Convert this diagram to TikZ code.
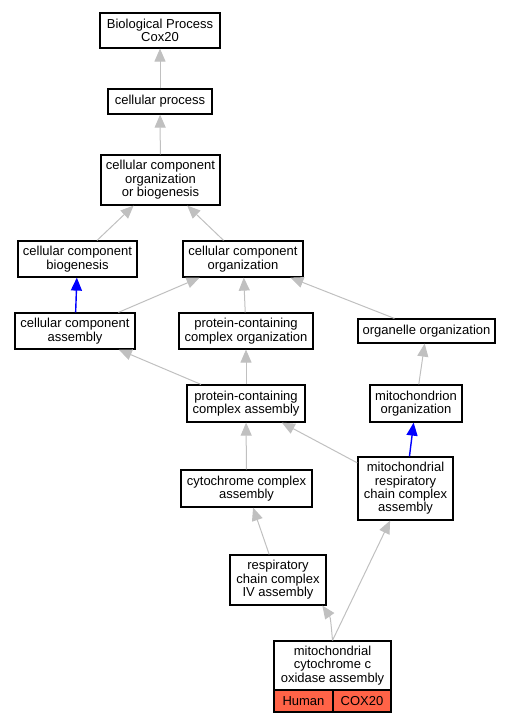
\documentclass[tikz,border=0pt]{standalone}
\usepackage{fontspec}
\setmainfont{Liberation Sans}
\usepackage{tikz}
\usetikzlibrary{arrows.meta}

\definecolor{edgegray}{HTML}{C0C0C0}
\definecolor{tomato}{HTML}{FF6347}

\begin{document}
\begin{tikzpicture}[x=1pt,y=-1pt,
  go node/.style={rectangle,draw,line width=1.2pt,fill=white,align=center,inner sep=0pt,
    font=\fontsize{13}{13.4}\selectfont},
  gene node/.style={rectangle,draw,line width=1.2pt,fill=tomato,inner sep=0pt,
    minimum height=22pt,font=\fontsize{13}{13.4}\selectfont},
  isa/.style={draw=edgegray,line width=1pt,-{Triangle[length=13pt,width=11pt]}},
  partof/.style={draw=blue,line width=1.4pt,-{Triangle[length=13pt,width=11pt]}}]
  \useasboundingbox (0,0) rectangle (511,723);

  \node[go node,minimum width=120pt,minimum height=35pt] (bp) at (160,30.5) {Biological Process\\Cox20};
  \node[go node,minimum width=104pt,minimum height=25pt] (cp) at (160,101.5) {cellular process};
  \node[go node,minimum width=119pt,minimum height=50pt] (ccob) at (160.5,180) {cellular component\\organization\\or biogenesis};
  \node[go node,minimum width=119pt,minimum height=36pt] (ccb) at (77.5,259) {cellular component\\biogenesis};
  \node[go node,minimum width=120pt,minimum height=36pt] (cco) at (243,259) {cellular component\\organization};
  \node[go node,minimum width=120pt,minimum height=36pt] (cca) at (75,331) {cellular component\\assembly};
  \node[go node,minimum width=134pt,minimum height=36pt] (pcco) at (246,331) {protein-containing\\complex organization};
  \node[go node,minimum width=137pt,minimum height=24pt] (oo) at (426.5,331) {organelle organization};
  \node[go node,minimum width=118pt,minimum height=37pt] (pcca) at (246,403.5) {protein-containing\\complex assembly};
  \node[go node,minimum width=92pt,minimum height=37pt] (mo) at (416,403.5) {mitochondrion\\organization};
  \node[go node,minimum width=131pt,minimum height=37pt] (cyca) at (246.5,488.5) {cytochrome complex\\assembly};
  \node[go node,minimum width=95pt,minimum height=63pt] (mrcca) at (405.5,488.5) {mitochondrial\\respiratory\\chain complex\\assembly};
  \node[go node,minimum width=96pt,minimum height=50pt] (rcc4) at (278,580) {respiratory\\chain complex\\IV assembly};
  \node[go node,minimum width=117pt,minimum height=49pt] (mcoa) at (332.5,665.5) {mitochondrial\\cytochrome c\\oxidase assembly};
  \node[gene node,minimum width=59pt] (human) at (303.5,701) {Human};
  \node[gene node,minimum width=58pt] (cox20) at (362,701) {COX20};

  \path
    (cp) edge [isa] (bp)
    (ccob) edge [isa] (cp)
    (ccb) edge [isa] (ccob)
    (cco) edge [isa] (ccob)
    (cca) edge [partof] (ccb)
    (cca) edge [isa] (cco)
    (pcco) edge [isa] (cco)
    (oo) edge [isa] (cco)
    (pcca) edge [isa] (cca)
    (pcca) edge [isa] (pcco)
    (mo) edge [isa] (oo)
    (mrcca) edge [isa] (pcca)
    (mrcca) edge [partof] (mo)
    (cyca) edge [isa] (pcca)
    (rcc4) edge [isa] (cyca)
    (mcoa.north) edge [isa] (mrcca)
    (mcoa.north) edge [isa,out=95,in=-55] (rcc4.-30);
\end{tikzpicture}
\end{document}
